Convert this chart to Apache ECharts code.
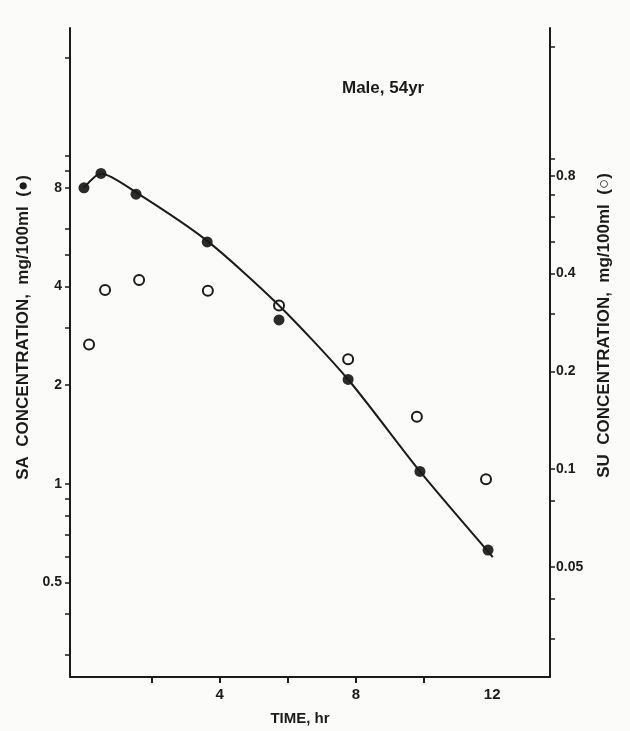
<!DOCTYPE html>
<html>
<head>
<meta charset="utf-8">
<script src="https://cdn.jsdelivr.net/npm/echarts@6/dist/echarts.min.js"></script>
<style>html,body{margin:0;padding:0;background:#fbfbfa;}#c{width:630px;height:731px;}</style>
</head>
<body>
<div id="c"></div>
<script>
// Filled circles: SA concentration (left axis)
const saTime = [0.01, 0.51, 1.54, 3.63, 5.74, 7.77, 9.88, 11.88];
const saConc = [8.0, 8.85, 7.65, 5.47, 3.16, 2.08, 1.09, 0.627];
// Fitted curve through SA
const fitTime = [0.01, 0.51, 1.54, 3.63, 5.74, 7.77, 9.88, 12.02];
const fitConc = [8.0, 8.85, 7.75, 5.51, 3.50, 2.08, 1.09, 0.597];
// Open circles: SU concentration (right axis)
const suTime = [0.16, 0.63, 1.63, 3.65, 5.74, 7.77, 9.79, 11.82];
const suConc = [0.242, 0.356, 0.382, 0.354, 0.319, 0.218, 0.145, 0.093];
// Ticks
const xTicks = [2, 4, 6, 8, 10];
const xLabels = [4, 8, 12];
const leftLabels = [0.5, 1, 2, 4, 8];
const leftTicks = [0.3, 0.4, 0.5, 0.6, 0.7, 0.8, 0.9, 1, 2, 3, 4, 5, 6, 8, 9, 10, 20];
const rightLabels = [0.05, 0.1, 0.2, 0.4, 0.8];
const rightTicks = [0.03, 0.04, 0.05, 0.08, 0.1, 0.2, 0.3, 0.4, 0.5, 0.6, 0.7, 0.8, 0.9, 2];

const ink = '#1b1b1b';
const font = 'Liberation Sans';
const pair = (a, b) => a.map((v, i) => [v, b[i]]);
const fmt = v => String(+(+v).toPrecision(3));

const chart = echarts.init(document.getElementById('c'), null, {renderer: 'canvas'});
chart.setOption({
  backgroundColor: '#fbfbfa',
  animation: false,
  grid: {left: 70, right: 80, top: 28, bottom: 48},
  title: {
    text: 'Male, 54yr', left: 337, top: 75,
    textStyle: {fontFamily: font, fontWeight: 'bold', fontSize: 17, color: ink}
  },
  xAxis: {
    type: 'value', min: -0.4, max: 13.7,
    name: 'TIME, hr', nameLocation: 'middle', nameGap: 34,
    nameTextStyle: {fontFamily: font, fontWeight: 'bold', fontSize: 15, color: ink, padding: [0, 20, 0, 0]},
    axisLine: {show: true, onZero: false, lineStyle: {color: ink, width: 2}},
    axisTick: {show: true, customValues: xTicks, length: 6, lineStyle: {color: ink, width: 2}},
    axisLabel: {customValues: xLabels, fontFamily: font, fontWeight: 'bold', fontSize: 15, color: ink, margin: 10},
    splitLine: {show: false}
  },
  yAxis: [{
    type: 'log', logBase: 2, min: 0.257, max: 24.6, position: 'left',
    name: 'SA  CONCENTRATION,  mg/100ml  (●)', nameLocation: 'middle', nameRotate: 90, nameGap: 36,
    nameTextStyle: {fontFamily: font, fontWeight: 'bold', fontSize: 17, color: ink, padding: [0, 0, 0, 50]},
    axisLine: {show: true, onZero: false, lineStyle: {color: ink, width: 2}},
    axisTick: {show: true, customValues: leftTicks, length: 5, lineStyle: {color: ink, width: 1.5}},
    axisLabel: {customValues: leftLabels, formatter: fmt, fontFamily: font, fontWeight: 'bold', fontSize: 14, color: ink, margin: 8},
    splitLine: {show: false}
  }, {
    type: 'log', logBase: 2, min: 0.0229, max: 2.28, position: 'right',
    name: 'SU  CONCENTRATION,  mg/100ml  (○)', nameLocation: 'middle', nameRotate: 90, nameGap: 46,
    nameTextStyle: {fontFamily: font, fontWeight: 'bold', fontSize: 17, color: ink, padding: [0, 0, 0, 54]},
    axisLine: {show: true, onZero: false, lineStyle: {color: ink, width: 2}},
    axisTick: {show: true, customValues: rightTicks, length: 5, lineStyle: {color: ink, width: 1.5}},
    axisLabel: {customValues: rightLabels, formatter: fmt, fontFamily: font, fontWeight: 'bold', fontSize: 14, color: ink, margin: 6},
    splitLine: {show: false}
  }],
  series: [{
    name: 'SA fit', type: 'line', yAxisIndex: 0, smooth: 0.25, showSymbol: false,
    data: pair(fitTime, fitConc),
    lineStyle: {color: ink, width: 2}
  }, {
    name: 'SA', type: 'scatter', yAxisIndex: 0, symbolSize: 11,
    data: pair(saTime, saConc),
    itemStyle: {color: '#2b2b2b', opacity: 1}
  }, {
    name: 'SU', type: 'scatter', yAxisIndex: 1, symbolSize: 10,
    data: pair(suTime, suConc),
    itemStyle: {color: '#fbfbfa', borderColor: ink, borderWidth: 2, opacity: 1}
  }]
});
</script>
</body>
</html>
